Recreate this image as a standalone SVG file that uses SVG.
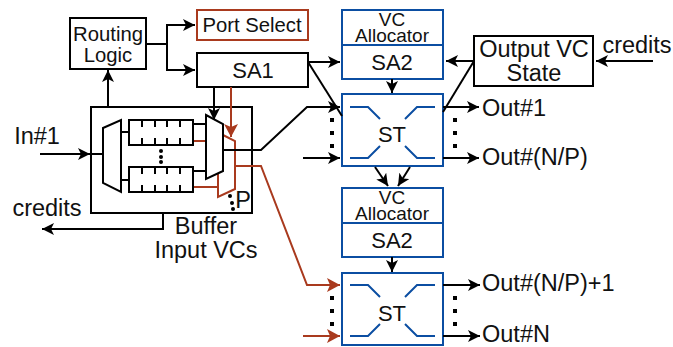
<svg xmlns="http://www.w3.org/2000/svg" width="673" height="347" viewBox="0 0 673 347">
<defs>
<marker id="ak" markerUnits="userSpaceOnUse" markerWidth="13" markerHeight="12" refX="12" refY="6" orient="auto"><path d="M0 0L12 6L0 12L3 6Z" fill="#000"/></marker>
<marker id="ar" markerUnits="userSpaceOnUse" markerWidth="14" markerHeight="14" refX="13" refY="7" orient="auto"><path d="M0 0L13 7L0 14L3 7Z" fill="#a93a1e"/></marker>
</defs>
<style>
text{font-family:"Liberation Sans",Arial,sans-serif;fill:#111;text-anchor:middle}
.k{fill:#fff;stroke:#000;stroke-width:2}
.r{fill:#fff;stroke:#a93a1e;stroke-width:2}
.b{fill:#fff;stroke:#0b4ea2;stroke-width:2}
.l{fill:none;stroke:#000;stroke-width:2}
.lr{fill:none;stroke:#a93a1e;stroke-width:2}
.x{fill:none;stroke:#0b4ea2;stroke-width:2}
.a{marker-end:url(#ak)}
.ar{marker-end:url(#ar)}
.t{font-size:23.5px}
.o{font-size:23.5px;text-anchor:start}
.n{font-size:22px}
.m{font-size:20.3px}
.s{font-size:19px}
</style>
<g id="routing-logic"><rect class="k" x="70" y="18" width="76" height="51"/><text class="m" x="108" y="41">Routing</text><text class="m" x="108" y="62">Logic</text></g>
<g id="port-select"><rect class="r" x="197" y="10" width="111" height="30"/><text class="m" x="252" y="32">Port Select</text></g>
<g id="sa1"><rect class="k" x="197" y="53" width="111" height="34"/><text class="n" x="253" y="78">SA1</text></g>
<g id="buffer"><rect class="k" x="91" y="107" width="161" height="106"/>
<path class="l" d="M121 132H129M121 180H129M193 124H206M193 171H206"/>
<path class="lr" d="M193 141H206M193 187H218"/>
<path class="k" d="M103 128L121 120V192L103 183Z"/>
<path class="r" d="M223 135L235 141V189L218 197V174"/>
<path class="k" d="M206 115L223 124V171L206 179Z"/>
<rect class="k" x="129" y="120" width="64" height="25"/><rect class="k" x="129" y="167" width="64" height="25"/>
<path class="l" d="M142 120v7M155 120v7M167 120v7M180 120v7M142 138v7M155 138v7M167 138v7M180 138v7M142 167v7M155 167v7M167 167v7M180 167v7M142 185v7M155 185v7M167 185v7M180 185v7"/>
<circle cx="161" cy="151" r="2"/><circle cx="161" cy="157" r="2"/><circle cx="161" cy="162" r="2"/>
<circle cx="230" cy="196" r="2"/><circle cx="232" cy="203" r="2"/><circle cx="233" cy="209" r="2"/>
<text class="t" x="243" y="208">P</text></g>
<g id="vc-sa2-top"><rect class="b" x="342" y="10" width="101" height="69"/><path class="x" d="M342 45H443"/><text class="s"><tspan x="392" y="26">VC</tspan><tspan x="392" y="42">Allocator</tspan></text><text class="n" x="392" y="70">SA2</text></g>
<g id="st-top"><rect class="b" x="342" y="94" width="101" height="72"/><path class="x" d="M350 107H368L380 119M435 107H417L405 119M350 158H368L380 146M435 158H417L405 146"/><text class="n" x="392" y="142">ST</text></g>
<g id="vc-sa2-bottom"><rect class="b" x="342" y="188" width="101" height="69"/><path class="x" d="M342 223H443"/><text class="s"><tspan x="392" y="204">VC</tspan><tspan x="392" y="220">Allocator</tspan></text><text class="n" x="392" y="248">SA2</text></g>
<g id="st-bottom"><rect class="b" x="342" y="273" width="101" height="72"/><path class="x" d="M350 285H368L380 297M435 285H417L405 297M350 336H368L380 324M435 336H417L405 324"/><text class="n" x="392" y="321">ST</text></g>
<g id="output-vc"><rect class="k" x="474" y="36" width="119" height="50"/><text class="t" x="534" y="57">Output VC</text><text class="t" x="534" y="81">State</text></g>
<g id="connectors">
<path class="l a" d="M108 107V70"/>
<path class="l a" d="M146 44H167V25H195"/>
<path class="l a" d="M167 44V70H195"/>
<path class="l a" d="M214 87V120"/>
<path class="lr ar" d="M231 87V137"/>
<path class="l a" d="M40 154H90"/>
<path class="l" d="M91 154H103"/>
<path class="l a" d="M223 150H261L307 107H340"/>
<path class="lr ar" d="M235 166H261L307 285H340"/>
<path class="lr ar" d="M303 336H340"/>
<path class="l a" d="M308 62H340"/>
<path class="l" d="M308 62L342 116"/>
<path class="l a" d="M303 158H340"/>
<path class="l a" d="M474 61H446"/>
<path class="l" d="M474 61L443 112"/>
<path class="l a" d="M653 61H596"/>
<path class="l a" d="M392 79V93"/>
<path class="l a" d="M443 107H479"/>
<path class="l a" d="M443 158H479"/>
<path class="l a" d="M375 167L388 186"/>
<path class="l a" d="M410 167L398 186"/>
<path class="l a" d="M392 257V272"/>
<path class="l a" d="M443 285H480"/>
<path class="l a" d="M443 336H480"/>
<path class="l a" d="M163 213V229H42"/>
<path d="M330 118h4v4h-4zM330 131h4v4h-4zM330 144h4v4h-4zM453 118h4v4h-4zM453 131h4v4h-4zM453 144h4v4h-4zM330 296h4v4h-4zM330 309h4v4h-4zM330 322h4v4h-4zM453 296h4v4h-4zM453 309h4v4h-4zM453 322h4v4h-4z"/>
</g>
<g id="labels">
<text class="t" x="37" y="144">In#1</text>
<text class="t" x="47" y="216">credits</text>
<text class="t" x="206" y="234">Buffer</text>
<text class="t" x="206" y="258">Input VCs</text>
<text class="t" x="637" y="53">credits</text>
<text class="o" x="482" y="116">Out#1</text>
<text class="o" x="482" y="165">Out#(N/P)</text>
<text class="o" x="482" y="291">Out#(N/P)+1</text>
<text class="o" x="482" y="342">Out#N</text>
</g>
</svg>
